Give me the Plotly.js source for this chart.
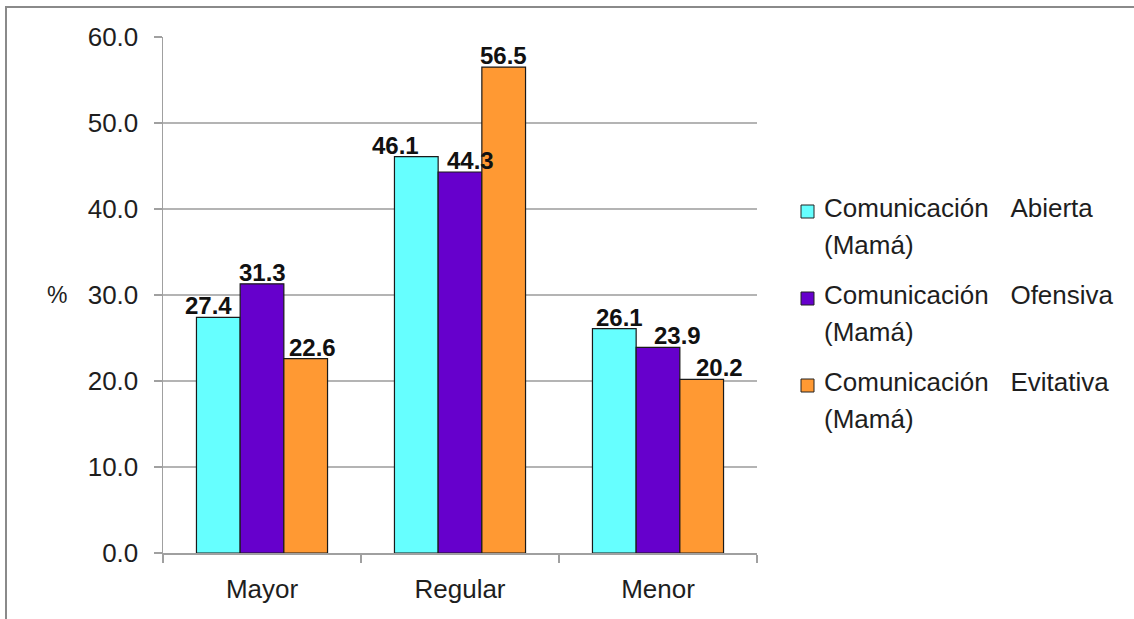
<!DOCTYPE html>
<html>
<head>
<meta charset="utf-8">
<script src="https://cdn.plot.ly/plotly-3.0.1.min.js"></script>
<style>
  html, body { margin: 0; padding: 0; background: #ffffff; }
  #frame {
    position: absolute; left: 0; top: 0; width: 1134px; height: 619px;
    overflow: hidden;
  }
  #frame::before {
    content: ""; position: absolute; left: 5px; top: 6px; right: 0; bottom: 0;
    border-top: 2px solid #8a8a8a; border-left: 2px solid #8a8a8a;
    pointer-events: none; z-index: 5;
  }
  #chart { position: absolute; left: 0; top: 0; width: 1134px; height: 619px; }
</style>
</head>
<body>
<div id="frame"><div id="chart"></div></div>
<script>
// Categories along the x axis
const categories = ["Mayor", "Regular", "Menor"];

// Percentages per communication style
const abierta   = [27.4, 46.1, 26.1];
const ofensiva  = [31.3, 44.3, 23.9];
const evitativa = [22.6, 56.5, 20.2];

// Series names, drawn in the legend on two lines each
const seriesNames = [
  ["Comunicación", "Abierta", "(Mamá)"],
  ["Comunicación", "Ofensiva", "(Mamá)"],
  ["Comunicación", "Evitativa", "(Mamá)"]
];

const yTickVals = [0, 10, 20, 30, 40, 50, 60];

// Styling
const colors = ["#66ffff", "#6600cc", "#ff9933"];
const seriesValues = [abierta, ofensiva, evitativa];
// small horizontal nudges (px) so neighbouring value labels do not collide
const labelNudge = [
  [-10, -21, 5],
  [0, 10, 19],
  [7, 0, 18]
];

const BARGAP = 0.338;
const FONT = "Arial, 'Liberation Sans', sans-serif";
const TEXT = "#1e1e1e";

const traces = seriesValues.map((vals, i) => ({
  type: "bar",
  x: categories,
  y: vals,
  name: seriesNames[i].join(" "),
  marker: { color: colors[i], line: { color: "#1a1a1a", width: 1.2 } },
  showlegend: false,
  hoverinfo: "y"
}));

// value labels above each bar, positioned through the category axis
const groupWidth = 1 - BARGAP;
const barW = groupWidth / seriesValues.length;
const annotations = [];
seriesValues.forEach((vals, i) => {
  vals.forEach((v, c) => {
    annotations.push({
      xref: "x", yref: "y",
      x: c - groupWidth / 2 + barW * (i + 0.5),
      y: v,
      text: "<b>" + v.toFixed(1) + "</b>",
      showarrow: false,
      xanchor: "center", yanchor: "bottom",
      xshift: labelNudge[i][c],
      yshift: -4,
      font: { family: FONT, size: 24, color: "#111111" }
    });
  });
});

// "%" axis label
annotations.push({
  xref: "paper", yref: "paper", x: -0.178, y: 0.5,
  xanchor: "center", yanchor: "middle",
  text: "%", showarrow: false,
  font: { family: FONT, size: 23, color: TEXT }
});

// legend: coloured squares plus two-line labels
const shapes = [];
const legendX = 801, legendTextX = 822, legendTop = 208, entryStep = 87, lineStep = 37;
const W = 1134, H = 619, ML = 163, MR = 377, MT = 37, MB = 66;
const px = v => (v - ML) / (W - ML - MR);
const py = v => 1 - (v - MT) / (H - MT - MB);
seriesNames.forEach((parts, i) => {
  const yc = legendTop + i * entryStep;
  shapes.push({
    type: "rect", xref: "paper", yref: "paper",
    x0: px(legendX), x1: px(legendX + 13),
    y0: py(yc + 10), y1: py(yc - 3),
    fillcolor: colors[i], line: { color: "#222222", width: 1 }
  });
  annotations.push({
    xref: "paper", yref: "paper", x: px(legendTextX), y: py(yc),
    xanchor: "left", yanchor: "middle", showarrow: false,
    text: parts[0] + " \u00a0\u00a0" + parts[1],
    font: { family: FONT, size: 26, color: TEXT }
  });
  annotations.push({
    xref: "paper", yref: "paper", x: px(legendTextX), y: py(yc + lineStep),
    xanchor: "left", yanchor: "middle", showarrow: false,
    text: parts[2],
    font: { family: FONT, size: 26, color: TEXT }
  });
});

const layout = {
  width: W, height: H,
  margin: { l: ML, r: MR, t: MT, b: MB, pad: 0 },
  paper_bgcolor: "rgba(0,0,0,0)",
  plot_bgcolor: "#ffffff",
  barmode: "group",
  bargap: BARGAP,
  bargroupgap: 0,
  font: { family: FONT, size: 26, color: TEXT },
  xaxis: {
    type: "category",
    categoryarray: categories,
    showline: true, linecolor: "#a0a0a0", linewidth: 1.5,
    ticks: "outside", tickson: "boundaries", ticklen: 8, tickcolor: "#a0a0a0", tickwidth: 1.5,
    showgrid: false, zeroline: false,
    tickfont: { family: FONT, size: 26, color: TEXT },
    ticklabelstandoff: 12
  },
  yaxis: {
    range: [0, 60],
    tickvals: yTickVals,
    ticktext: yTickVals.map(v => v.toFixed(1)),
    showline: true, linecolor: "#a0a0a0", linewidth: 1.5,
    ticks: "outside", ticklen: 8, tickcolor: "#a0a0a0", tickwidth: 1.5,
    showgrid: true, gridcolor: "#b4b4b4", gridwidth: 1.5,
    zeroline: false,
    tickfont: { family: FONT, size: 26, color: TEXT },
    ticklabelstandoff: 10
  },
  annotations: annotations,
  shapes: shapes,
  showlegend: false
};

Plotly.newPlot("chart", traces, layout, { staticPlot: true, displayModeBar: false });
</script>
</body>
</html>
